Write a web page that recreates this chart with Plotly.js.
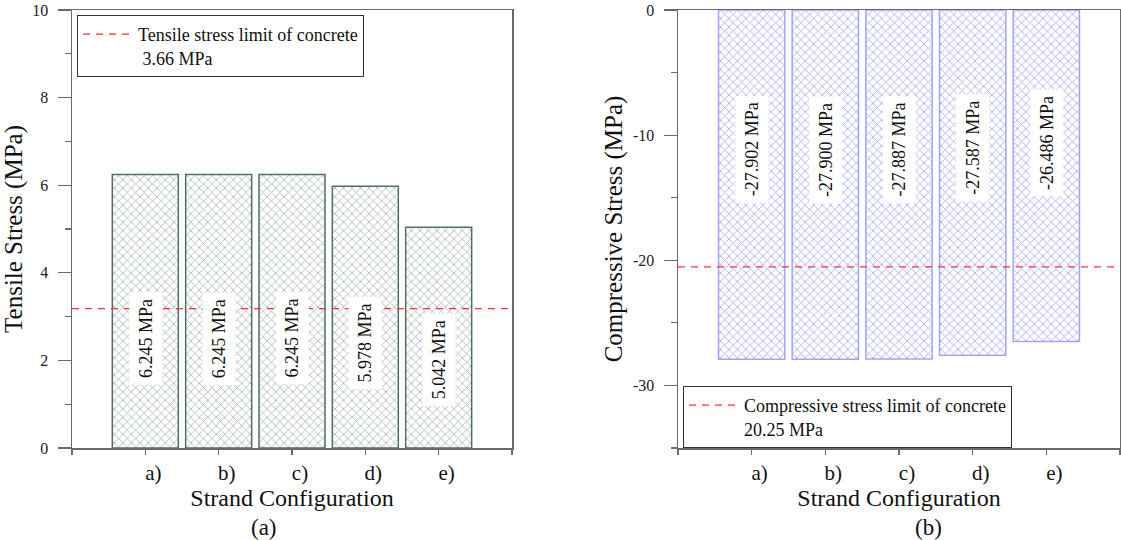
<!DOCTYPE html>
<html>
<head>
<meta charset="utf-8">
<script src="https://cdn.plot.ly/plotly-3.0.1.min.js"></script>
<style>
  html, body { margin: 0; padding: 0; background: #fff; }
  #chart { width: 1121px; height: 540px; }
</style>
</head>
<body>
<div id="chart"></div>
<script>
// ---- data ----
const categories = ['a)', 'b)', 'c)', 'd)', 'e)'];
const tensileStress = [6.245, 6.245, 6.245, 5.978, 5.042];
const compressiveStress = [-27.902, -27.900, -27.887, -27.587, -26.486];
const tensileLimitLevel = [3.18];      // level of the dashed line as drawn
const compressiveLimitLevel = [-20.53]; // level of the dashed line as drawn
const tensileTicks = [0, 2, 4, 6, 8, 10];
const compressiveTicks = [-30, -20, -10, 0];
const tensileLegendText = ['Tensile stress limit of concrete', ' 3.66 MPa'];
const compressiveLegendText = ['Compressive stress limit of concrete', '20.25 MPa'];
const panelCaptions = ['(a)', '(b)'];
const xTitle = 'Strand Configuration';
const yTitles = ['Tensile Stress (MPa)', 'Compressive Stress (MPa)'];

// ---- derived ----
const W = 1121, H = 540;
const SERIF = 'Liberation Serif, Times New Roman, serif';
const xs = categories.map((_, i) => i + 1);
const xEnd = categories.length + 1;
const tickVals = [0].concat(xs, [xEnd]);
const tickText = [''].concat(categories, ['']);
const fmt = v => v.toFixed(3) + ' MPa';
const LABEL_FRAC = 0.4;

const px = (a, b) => [a / W, b / W];
const py = (top, bottom) => [1 - bottom / H, 1 - top / H];

const traces = [
  {
    type: 'bar', x: xs, y: tensileStress, width: 0.9,
    xaxis: 'x', yaxis: 'y', showlegend: false, hoverinfo: 'y',
    marker: {
      color: '#ffffff',
      line: { color: '#4d6e6a', width: 1.5 },
      pattern: { shape: 'x', fgcolor: '#a3b4b1', bgcolor: '#ffffff', size: 6, solidity: 0.25 }
    }
  },
  {
    type: 'bar', x: xs, y: compressiveStress, width: 0.9,
    xaxis: 'x2', yaxis: 'y2', showlegend: false, hoverinfo: 'y',
    marker: {
      color: '#ffffff',
      line: { color: '#a3a3ff', width: 1.5 },
      pattern: { shape: 'x', fgcolor: '#a3a3ff', bgcolor: '#ffffff', size: 6, solidity: 0.25 }
    }
  },
  {
    type: 'scatter', mode: 'lines', x: [0, xEnd], y: [tensileLimitLevel[0], tensileLimitLevel[0]],
    xaxis: 'x', yaxis: 'y', name: tensileLegendText.join('<br>'), legend: 'legend',
    line: { color: '#ff3030', width: 1.3, dash: '7px,6px' }
  },
  {
    type: 'scatter', mode: 'lines', x: [0, xEnd], y: [compressiveLimitLevel[0], compressiveLimitLevel[0]],
    xaxis: 'x2', yaxis: 'y2', name: compressiveLegendText.join('<br>'), legend: 'legend2',
    line: { color: '#ff3030', width: 1.3, dash: '7px,6px' }
  }
];

const annotations = [];
tensileStress.forEach((v, i) => annotations.push({
  xref: 'x', yref: 'y', x: xs[i], y: v * LABEL_FRAC, text: fmt(v), textangle: -90,
  showarrow: false, bgcolor: '#ffffff', borderpad: 6,
  font: { family: SERIF, size: 18, color: '#111' }
}));
compressiveStress.forEach((v, i) => annotations.push({
  xref: 'x2', yref: 'y2', x: xs[i], y: v * LABEL_FRAC, text: fmt(v), textangle: -90,
  showarrow: false, bgcolor: '#ffffff', borderpad: 6,
  font: { family: SERIF, size: 18, color: '#111' }
}));
annotations.push({
  xref: 'paper', yref: 'paper', x: 264 / W, y: 1 - 527 / H, text: panelCaptions[0],
  showarrow: false, xanchor: 'center', yanchor: 'middle',
  font: { family: SERIF, size: 23, color: '#111' }
});
annotations.push({
  xref: 'paper', yref: 'paper', x: 928 / W, y: 1 - 527 / H, text: panelCaptions[1],
  showarrow: false, xanchor: 'center', yanchor: 'middle',
  font: { family: SERIF, size: 23, color: '#111' }
});

const axisLine = { showline: true, linecolor: '#6a6a6a', linewidth: 1.5, mirror: true, zeroline: false, showgrid: false };

function xAxis(domain, anchor) {
  return Object.assign({}, axisLine, {
    domain: domain, anchor: anchor, range: [0, xEnd], tickmode: 'array',
    tickvals: tickVals, ticktext: tickText, ticks: 'outside', ticklen: 5, tickwidth: 1.2,
    tickcolor: '#6a6a6a', ticklabelshift: 8, ticklabelstandoff: 0,
    tickfont: { family: SERIF, size: 21, color: '#111' },
    title: { text: xTitle, standoff: 1, font: { family: SERIF, size: 24, color: '#111' } }
  });
}
function yAxis(domain, anchor, range, ticks, minorDtick, title) {
  return Object.assign({}, axisLine, {
    domain: domain, anchor: anchor, range: range, tickmode: 'array',
    tickvals: ticks, ticktext: ticks.map(String), ticklabeloverflow: 'allow',
    ticks: 'outside', ticklen: 13, tickwidth: 1.2, tickcolor: '#6a6a6a', ticklabelstandoff: 6,
    minor: { dtick: minorDtick, tick0: 0, ticks: 'outside', ticklen: 6, tickwidth: 1.2, tickcolor: '#6a6a6a', showgrid: false },
    tickfont: { family: SERIF, size: 16, color: '#222' },
    title: { text: title, standoff: 3, font: { family: SERIF, size: 25, color: '#111' } }
  });
}

const legendBase = {
  xanchor: 'left', yanchor: 'top', bgcolor: '#ffffff', bordercolor: '#333333', borderwidth: 1,
  font: { family: SERIF, size: 18, color: '#111' }, valign: 'top', itemwidth: 50, tracegroupgap: 0
};

const layout = {
  width: W, height: H,
  margin: { l: 0, r: 0, t: 0, b: 0 },
  paper_bgcolor: '#ffffff', plot_bgcolor: '#ffffff',
  xaxis: xAxis(px(72, 512), 'y'),
  yaxis: yAxis(py(10, 448), 'x', [0, 10], tensileTicks, 1, yTitles[0]),
  xaxis2: xAxis(px(678, 1120), 'y2'),
  yaxis2: yAxis(py(10, 448), 'x2', [-35, 0], compressiveTicks, 5, yTitles[1]),
  legend: Object.assign({}, legendBase, { x: 77 / W, y: 1 - 15 / H }),
  legend2: Object.assign({}, legendBase, { x: 683 / W, y: 1 - 386 / H }),
  annotations: annotations,
  bargap: 0.1
};

Plotly.newPlot('chart', traces, layout, { displayModeBar: false, staticPlot: true });
</script>
</body>
</html>
